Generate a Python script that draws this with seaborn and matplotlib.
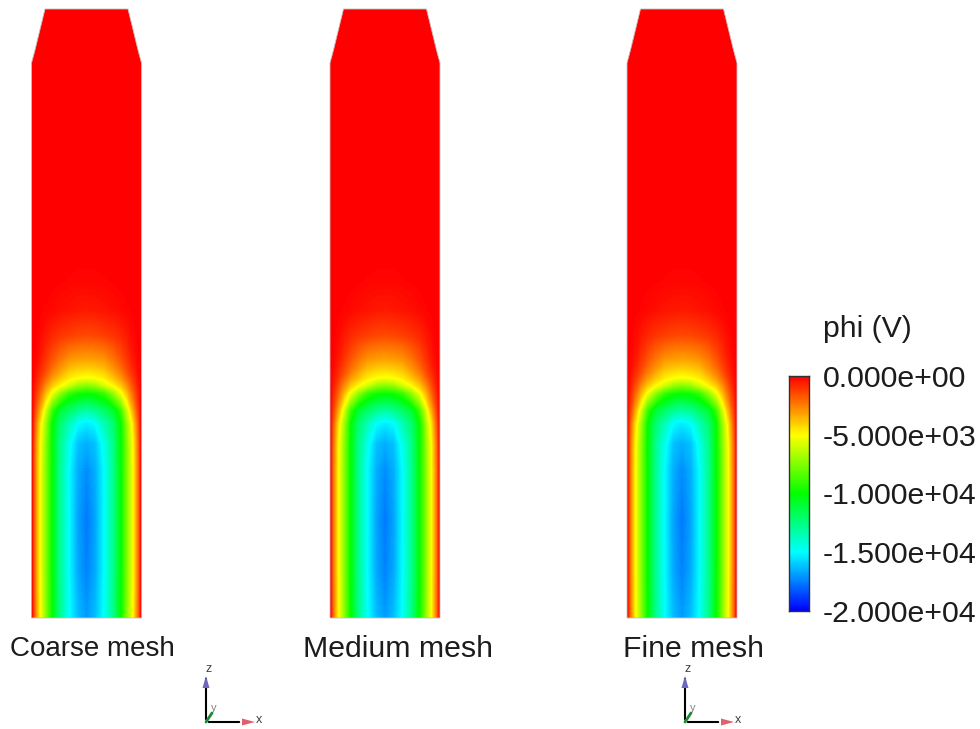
import numpy as np
import seaborn as sns
import matplotlib
matplotlib.use("Agg")
import matplotlib.pyplot as plt
from matplotlib.colors import LinearSegmentedColormap
from matplotlib.patches import Polygon

sns.set_theme(style="white")
plt.rcParams['font.family'] = ['Liberation Sans', 'DejaVu Sans']

panel_names = ["Coarse mesh", "Medium mesh", "Fine mesh"]
panel_left = [31.5, 330, 627]
panel_label_x = [92, 398, 693]
panel_label_size = [20, 21.8, 21.7]
panel_width = 110
outline_x = [0, 3.5, 13.5, 96.5, 106.5, 110, 110, 0]
outline_y = [63, 50, 9, 9, 50, 63, 618, 618]

# distance from wall (half-width, mirrored) and axial position
wall_dist = [0, 3, 8, 14, 20, 28, 37, 46, 55]
axial = [9, 250, 280, 310, 335, 360, 370, 378, 385, 393, 410, 423, 443, 470, 520, 570, 618]
phi_half = [
    [0, 0, 0, 0, 0, 0, 0, 0, 0],
    [0, 0, 0, 0, 0, 0, 0, 0, 0],
    [0, 0, 0, 0, -20, -50, -90, -120, -130],
    [0, 0, -40, -100, -180, -300, -400, -480, -520],
    [0, -30, -200, -500, -800, -1050, -1250, -1400, -1450],
    [0, -150, -500, -1100, -1700, -2400, -3000, -3200, -3300],
    [0, -250, -800, -1500, -2300, -3100, -3900, -4200, -4300],
    [0, -400, -1100, -2100, -3000, -3900, -4700, -5100, -5300],
    [0, -550, -1500, -2800, -3900, -4900, -5900, -7000, -7400],
    [0, -800, -2000, -3700, -5300, -7200, -9000, -9700, -9900],
    [0, -1300, -3300, -5900, -8800, -11000, -12000, -12800, -13200],
    [0, -1800, -4400, -7000, -9900, -12200, -13600, -15000, -15400],
    [0, -2200, -4900, -7400, -10000, -12700, -14600, -16200, -16600],
    [0, -2300, -5000, -7500, -10000, -12800, -15000, -16600, -17300],
    [0, -2300, -5000, -7500, -10000, -12800, -15000, -16800, -17700],
    [0, -2300, -5000, -7500, -10000, -12800, -15000, -16700, -17500],
    [0, -2200, -4900, -7400, -9900, -12700, -14900, -16300, -17000],
]
scale_ticks = ["0.000e+00", "-5.000e+03", "-1.000e+04", "-1.500e+04", "-2.000e+04"]
scale_levels = np.linspace(0, -20000, 256)

cmap = LinearSegmentedColormap.from_list(
    "phi", ["#0000ff", "#00ffff", "#00ff00", "#ffff00", "#ff0000"], N=512)

fig = plt.figure(figsize=(9.8, 7.29), dpi=100, facecolor="white")
ax = fig.add_axes([0, 0, 1, 1])
ax.set_xlim(0, 980)
ax.set_ylim(729, 0)
ax.axis("off")

half = np.array(phi_half, dtype=float)
field = np.hstack([half, half[:, -2::-1]])
dist = np.array(wall_dist, dtype=float)
across = np.concatenate([dist, panel_width - dist[-2::-1]])
levels = np.linspace(-20000, 1, 257)

for left, name, lx, fs in zip(panel_left, panel_names, panel_label_x, panel_label_size):
    patch = Polygon(np.column_stack([np.array(outline_x) + left, outline_y]),
                    closed=True, fc="none", ec="#c8c0c0", lw=0.6, zorder=3)
    ax.add_patch(patch)
    cs = ax.contourf(across + left, axial, field, levels=levels, cmap=cmap,
                     vmin=-20000, vmax=0, antialiased=False)
    cs.set_clip_path(patch)
    ax.text(lx, 649, name, ha="center", va="center", fontsize=fs, color="#1c1c1c")

# colour scale
cax = fig.add_axes([789 / 980, 1 - 611 / 729, 20 / 980, 235 / 729])
sns.heatmap(scale_levels.reshape(-1, 1), ax=cax, cmap=cmap, vmin=-20000, vmax=0,
            cbar=False, xticklabels=False, yticklabels=False)
for s in cax.spines.values():
    s.set_visible(True)
    s.set_color("#303030")
    s.set_linewidth(1.0)
cax.yaxis.tick_right()
cax.set_yticks([0, 64, 128, 192, 256])
cax.set_yticklabels(scale_ticks, rotation=0, fontsize=21.8, color="#1c1c1c")
cax.tick_params(axis="y", length=0, pad=10, right=False, left=False)
ax.text(823, 329, "phi (V)", ha="left", va="center", fontsize=21.8, color="#1c1c1c")

# axis triads
for ox in [206, 685]:
    oy = 722
    ax.annotate("", xy=(ox, 676), xytext=(ox, oy), zorder=4,
                arrowprops=dict(arrowstyle="-", color="black", lw=1.5))
    ax.annotate("", xy=(ox + 36, oy), xytext=(ox, oy), zorder=4,
                arrowprops=dict(arrowstyle="-", color="black", lw=1.5))
    ax.add_patch(Polygon([(ox - 3.5, 688), (ox, 676), (ox + 3.5, 688)], fc="#6f68c0", ec="none", zorder=5))
    ax.add_patch(Polygon([(ox + 36, oy - 3.5), (ox + 49, oy), (ox + 36, oy + 3.5)], fc="#e0606e", ec="none", zorder=5))
    ax.plot([ox, ox + 6], [oy, oy - 9], color="#1a8a30", lw=2, zorder=5)
    ax.text(ox + 3, 669, "z", fontsize=9, ha="center", va="center", color="#404040")
    ax.text(ox + 53, 720, "x", fontsize=9, ha="center", va="center", color="#404040")
    ax.text(ox + 8, 708, "y", fontsize=8, ha="center", va="center", color="#808080")

fig.savefig("out.png", dpi=100, facecolor="white")
